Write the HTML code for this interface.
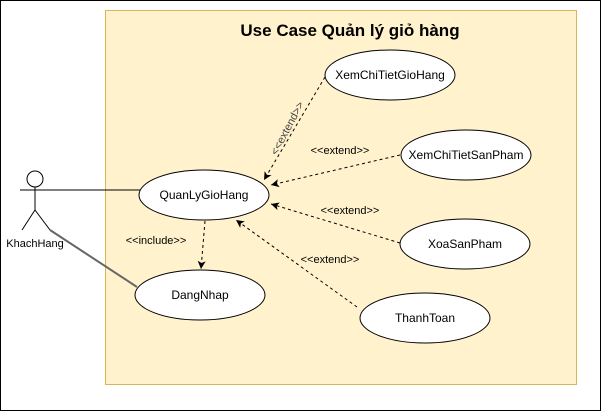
<!DOCTYPE html>
<html><head><style>body{margin:0;background:#fff}svg{display:block}text{font-family:"Liberation Sans",sans-serif}</style></head><body>
<svg width="601" height="411" viewBox="0 0 601 411" xmlns="http://www.w3.org/2000/svg">
<defs><marker id="a" markerWidth="10" markerHeight="10" refX="9" refY="5" orient="auto" markerUnits="userSpaceOnUse"><path d="M1,1 L9,5 L1,9 L3,5 Z" fill="#000"/></marker></defs>
<rect x="0.5" y="0.5" width="600" height="410" fill="#fff" stroke="#000"/>
<rect x="105.5" y="10.5" width="471" height="374" fill="#fff2cc" stroke="#d6b656"/>
<text x="350" y="36" font-size="17" font-weight="bold" text-anchor="middle">Use Case Quản lý giỏ hàng</text>
<g stroke="#000" fill="none">
<circle cx="35" cy="179" r="8" fill="#fff"/>
<line x1="35" y1="187" x2="35" y2="210"/>
<line x1="20" y1="190" x2="140" y2="190"/>
<line x1="35" y1="210" x2="22" y2="230"/>
<line x1="35" y1="210" x2="50" y2="230"/>
</g>
<line x1="50" y1="230" x2="137" y2="287" stroke="#666" stroke-width="2"/>
<text x="35" y="247" font-size="11" text-anchor="middle">KhachHang</text>
<g stroke="#000" stroke-dasharray="3,3" fill="none" marker-end="url(#a)">
<line x1="205" y1="221" x2="201" y2="269"/>
<line x1="325" y1="77" x2="264" y2="180"/>
<line x1="400" y1="155" x2="271" y2="185"/>
<line x1="400" y1="243" x2="271" y2="204"/>
<line x1="357" y1="307" x2="236" y2="220"/>
</g>
<g fill="#fff" stroke="#000">
<ellipse cx="204" cy="195" rx="65" ry="25"/>
<ellipse cx="200" cy="295" rx="65" ry="25"/>
<ellipse cx="390" cy="75" rx="65" ry="25"/>
<ellipse cx="466" cy="155" rx="65" ry="25"/>
<ellipse cx="465" cy="244" rx="65" ry="25"/>
<ellipse cx="425" cy="318" rx="65" ry="25"/>
</g>
<g font-size="12" text-anchor="middle">
<text x="204" y="199">QuanLyGioHang</text>
<text x="200" y="299">DangNhap</text>
<text x="390" y="79">XemChiTietGioHang</text>
<text x="466" y="159">XemChiTietSanPham</text>
<text x="465" y="248">XoaSanPham</text>
<text x="425" y="322">ThanhToan</text>
</g>
<g font-size="11" text-anchor="middle">
<text x="156" y="244">&lt;&lt;include&gt;&gt;</text>
<text x="340" y="154">&lt;&lt;extend&gt;&gt;</text>
<text x="350" y="214">&lt;&lt;extend&gt;&gt;</text>
<text x="330" y="263">&lt;&lt;extend&gt;&gt;</text>
<text x="287" y="132" transform="rotate(-62 287 128)" fill="#444">&lt;&lt;extend&gt;&gt;</text>
</g>
</svg>
</body></html>
